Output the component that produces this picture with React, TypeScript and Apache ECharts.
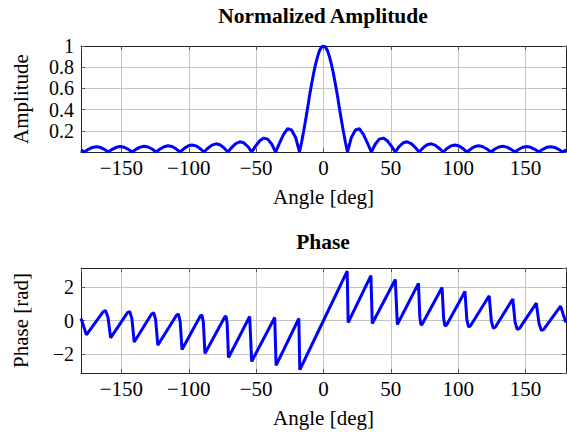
import React, { useEffect, useRef } from "react";
import * as echarts from "echarts";

// Normalized amplitude
const ampAngles = [
  -180, -177.5, -174.5, -171.6, -168.6, -165.7, -162.7, -159.8, -156.8, -153.8, -150.9, -147.9, -145,
  -142, -139, -136.1, -133.1, -130.2, -127.2, -124.3, -121.3, -118.3, -115.4, -112.4, -109.5,
  -106.5, -103.5, -100.6, -97.6, -94.7, -91.7, -88.8, -85.8, -82.8, -79.9, -76.9, -74,
  -71, -68, -65.1, -62.1, -59.2, -56.2, -53.3, -50.3, -47.3, -44.4, -41.4, -38.5,
  -35.5, -32.5, -29.6, -26.6, -23.7, -20.7, -17.8, -16.3, -14.8, -13.3, -11.8, -10.4, -8.9,
  -7.4, -5.9, -4.4, -3, -1.5, 0, 1.5, 3, 4.4, 5.9, 7.4, 8.9, 10.4, 11.8, 13.3, 14.8, 16.3, 17.8,
  20.7, 23.7, 26.6, 29.6, 32.5, 35.5, 38.5, 41.4, 44.4, 47.3, 50.3, 53.3,
  56.2, 59.2, 62.1, 65.1, 68, 71, 74, 76.9, 79.9, 82.8, 85.8, 88.8,
  91.7, 94.7, 97.6, 100.6, 103.5, 106.5, 109.5, 112.4, 115.4, 118.3, 121.3, 124.3,
  127.2, 130.2, 133.1, 136.1, 139, 142, 145, 147.9, 150.9, 153.8, 156.8, 159.8,
  162.7, 165.7, 168.6, 171.6, 174.5, 177.5, 180,
];
const ampValues = [
  0.02, 0, 0.025, 0.043, 0.05, 0.044, 0.025, 0, 0.025, 0.044, 0.051, 0.045, 0.026,
  0, 0.027, 0.046, 0.054, 0.047, 0.028, 0, 0.028, 0.05, 0.059, 0.052, 0.03,
  0, 0.032, 0.056, 0.066, 0.058, 0.034, 0, 0.036, 0.065, 0.077, 0.069, 0.041,
  0, 0.044, 0.08, 0.096, 0.087, 0.052, 0, 0.058, 0.106, 0.131, 0.121, 0.075,
  0, 0.088, 0.167, 0.22, 0.208, 0.137, 0, 0.09, 0.191, 0.3, 0.414, 0.528, 0.637,
  0.738, 0.827, 0.9, 0.955, 0.99, 1, 0.99, 0.955, 0.9, 0.827, 0.738, 0.637, 0.528, 0.414, 0.3, 0.191, 0.09, 0,
  0.137, 0.208, 0.22, 0.167, 0.088, 0, 0.075, 0.121, 0.131, 0.106, 0.058, 0,
  0.052, 0.087, 0.096, 0.08, 0.044, 0, 0.041, 0.069, 0.077, 0.065, 0.036, 0,
  0.034, 0.058, 0.066, 0.056, 0.032, 0, 0.03, 0.052, 0.059, 0.05, 0.028, 0,
  0.028, 0.047, 0.054, 0.046, 0.027, 0, 0.026, 0.045, 0.051, 0.044, 0.025, 0,
  0.025, 0.044, 0.05, 0.043, 0.025, 0, 0.02,
];

// Phase in rad
const phaseAngles = [
  -180, -178, -176, -163.6, -161.8, -160, -158, -145.5, -143.8, -142.2, -140.5,
  -127.5, -126, -124.6, -123, -109, -107.7, -106.4, -105, -91.3, -90.2, -89.2, -88,
  -73.2, -72.3, -71.5, -70.5, -54.8, -53.3, -36.2, -35.2, -18.3, -17.6,
  0,
  17.6, 18.3, 35.2, 36.2, 53.3, 54.8, 70.5, 71.5, 72.3, 73.2,
  88, 89.2, 90.2, 91.3, 105, 106.4, 107.7, 109, 123, 124.6, 126, 127.5,
  140.5, 142.2, 143.8, 145.5, 158, 160, 161.8, 163.6, 176, 178, 180,
];
const phaseValues = [
  0.12, -0.35, -0.86, 0.52, 0.6, 0.2, -1.04, 0.47, 0.53, 0.1, -1.29,
  0.4, 0.45, 0.05, -1.48, 0.33, 0.38, -0.05, -1.74, 0.28, 0.32, -0.1, -1.97,
  0.22, 0.26, -0.2, -2.22, 0.24, -2.45, 0.18, -2.69, 0.12, -2.95,
  0,
  2.95, -0.12, 2.69, -0.18, 2.45, -0.24, 2.22, 0.2, -0.26, -0.22,
  1.97, 0.1, -0.32, -0.28, 1.74, 0.05, -0.38, -0.33, 1.48, -0.05, -0.45, -0.4,
  1.29, -0.1, -0.53, -0.47, 1.04, -0.2, -0.6, -0.52, 0.86, 0.35, -0.12,
];

const FONT = "'Liberation Serif', 'Times New Roman', serif";
const FS = 21;
const minus = (v: number) => String(v).replace("-", "\u2212");

function xAxes(grid: number) {
  const common = {
    type: "value" as const,
    gridIndex: grid,
    min: -180,
    max: 180,
    splitNumber: 7,
  };
  return [
    {
      ...common,
      position: "bottom",
      name: "Angle [deg]",
      nameLocation: "middle",
      nameGap: 34,
      nameTextStyle: { fontFamily: FONT, fontSize: FS, color: "#000" },
      axisLine: { show: true, onZero: false, lineStyle: { color: "#222", width: 1 } },
      axisTick: { show: true, inside: true, length: 4, lineStyle: { color: "#555" } },
      axisLabel: {
        show: true,
        margin: 5,
        showMinLabel: false,
        showMaxLabel: false,
        fontFamily: FONT,
        fontSize: FS,
        color: "#000",
        formatter: minus,
      },
      splitLine: { show: true, lineStyle: { color: "#c4c4c4", width: 1 } },
    },
    {
      ...common,
      position: "top",
      axisLine: { show: true, onZero: false, lineStyle: { color: "#222", width: 1 } },
      axisTick: { show: true, inside: true, length: 4, lineStyle: { color: "#555" } },
      axisLabel: { show: false },
      splitLine: { show: false },
    },
  ];
}

function yAxes(grid: number, kind: "amp" | "phase") {
  const common: any =
    kind === "amp"
      ? { type: "value", gridIndex: grid, min: 0, max: 1, interval: 0.2 }
      : { type: "value", gridIndex: grid, min: -Math.PI, max: Math.PI, splitNumber: 3 };
  return [
    {
      ...common,
      position: "left",
      name: kind === "amp" ? "Amplitude" : "Phase [rad]",
      nameLocation: "middle",
      nameGap: 50,
      nameTextStyle: { fontFamily: FONT, fontSize: FS, color: "#000", lineHeight: 20 },
      axisLine: { show: true, onZero: false, lineStyle: { color: "#222", width: 1 } },
      axisTick: { show: true, inside: true, length: 4, lineStyle: { color: "#555" } },
      axisLabel: {
        show: true,
        margin: 7,
        showMinLabel: false,
        showMaxLabel: kind === "amp",
        fontFamily: FONT,
        fontSize: 20,
        lineHeight: 19,
        color: "#000",
        formatter: minus,
      },
      splitLine: { show: true, lineStyle: { color: "#c4c4c4", width: 1 } },
    },
    {
      ...common,
      position: "right",
      axisLine: { show: true, onZero: false, lineStyle: { color: "#222", width: 1 } },
      axisTick: { show: true, inside: true, length: 4, lineStyle: { color: "#555" } },
      axisLabel: { show: false },
      splitLine: { show: false },
    },
  ];
}

export default function App() {
  const ref = useRef<HTMLDivElement>(null);
  useEffect(() => {
    if (!ref.current) return;
    const chart = echarts.init(ref.current, undefined, { renderer: "svg" });
    const ampData = ampAngles.map((a, i) => [a, ampValues[i]]);
    const phaseData = phaseAngles.map((a, i) => [a, phaseValues[i]]);
    chart.setOption({
      animation: false,
      backgroundColor: "#fff",
      grid: [
        { left: 81, top: 46, width: 485, height: 106, containLabel: false, outerBoundsMode: "none" },
        { left: 81, top: 268, width: 485, height: 105, containLabel: false, outerBoundsMode: "none" },
      ],
      xAxis: [...xAxes(0), ...xAxes(1)],
      yAxis: [...yAxes(0, "amp"), ...yAxes(1, "phase")],
      graphic: [
        {
          type: "text",
          x: 323,
          y: 16,
          style: {
            text: "Normalized Amplitude",
            font: `bold 21.5px ${FONT}`,
            fill: "#000",
            textAlign: "center",
            textVerticalAlign: "middle",
          },
        },
        {
          type: "text",
          x: 323,
          y: 242,
          style: {
            text: "Phase",
            font: `bold 21.5px ${FONT}`,
            fill: "#000",
            textAlign: "center",
            textVerticalAlign: "middle",
          },
        },
      ],
      series: [
        {
          type: "line",
          xAxisIndex: 0,
          yAxisIndex: 0,
          data: ampData,
          showSymbol: false,
          clip: true,
          lineStyle: { color: "#0000ff", width: 3 },
          itemStyle: { color: "#0000ff" },
        },
        {
          type: "line",
          xAxisIndex: 2,
          yAxisIndex: 2,
          data: phaseData,
          showSymbol: false,
          clip: true,
          lineStyle: { color: "#0000ff", width: 3 },
          itemStyle: { color: "#0000ff" },
        },
      ],
    });
    return () => chart.dispose();
  }, []);
  return (
    <div
      ref={ref}
      style={{ position: "absolute", left: 0, top: 0, width: 567, height: 432 }}
    />
  );
}
